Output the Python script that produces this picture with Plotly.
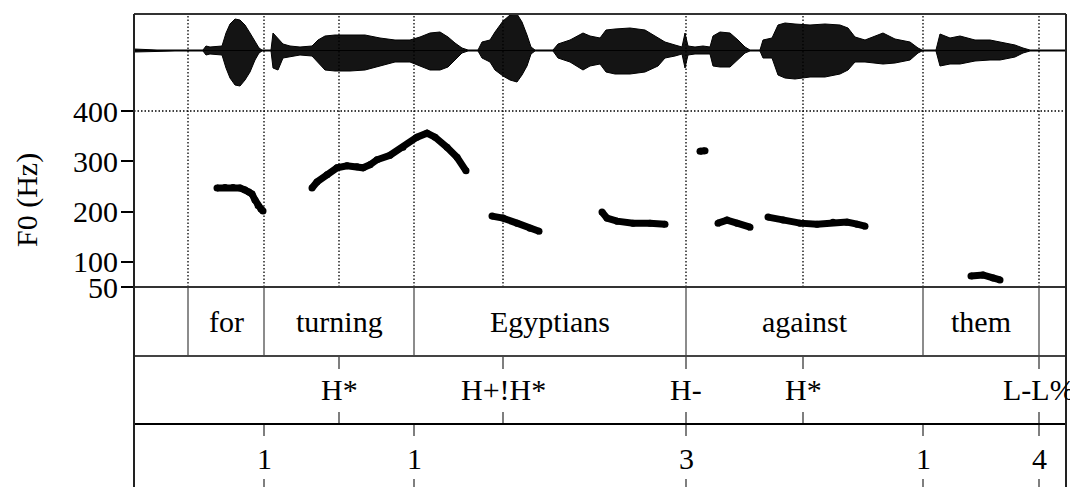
import plotly.graph_objects as go

# --- data -----------------------------------------------------------------
# time axis in seconds (whole utterance ~2.33 s)
DUR = 2.33

# waveform envelope (upper / lower amplitude, arbitrary units)
wave_t = [0.000, 0.0575, 0.1025, 0.1725, 0.18, 0.19, 0.22, 0.23, 0.24, 0.2525,
          0.265, 0.2775, 0.29, 0.3025, 0.3125, 0.32, 0.3425, 0.3475, 0.36, 0.3725,
          0.39, 0.415, 0.445, 0.46, 0.4775, 0.5025, 0.54, 0.5775, 0.615, 0.6525,
          0.69, 0.715, 0.74, 0.765, 0.785, 0.8025, 0.82, 0.835, 0.86, 0.87,
          0.89, 0.9025, 0.9225, 0.94, 0.9575, 0.97, 0.9825, 0.9925, 1.0025, 1.0475,
          1.06, 1.09, 1.1225, 1.14, 1.165, 1.18, 1.2025, 1.24, 1.2775, 1.31,
          1.3275, 1.3525, 1.37, 1.3775, 1.385, 1.4025, 1.4225, 1.44, 1.4475, 1.465,
          1.49, 1.51, 1.5275, 1.54, 1.565, 1.5725, 1.595, 1.61, 1.6275, 1.6525,
          1.69, 1.7275, 1.765, 1.785, 1.8025, 1.8275, 1.8725, 1.9025, 1.94, 1.96,
          1.97, 2.005, 2.015, 2.04, 2.065, 2.1025, 2.14, 2.165, 2.2025, 2.2225,
          2.24, 2.33]
wave_top = [1.5, 0.5, 0.5, 0.5, 4.5, 3.5, 4.5, 17.5, 26.5, 31.5,
            30.5, 25.5, 17.5, 8.5, 2.5, 0.5, 0.5, 17.5, 12.5, 6.5,
            4.5, 3.5, 4.5, 10.5, 14.5, 15.5, 15.5, 15.5, 12.5, 10.5,
            10.5, 13.5, 17.5, 18.5, 13.5, 7.5, 2.5, 0.5, 0.5, 8.5,
            10.5, 18.5, 29.5, 35.5, 36.5, 28.5, 15.5, 3.5, 0.5, 0.5,
            6.5, 10.5, 17.5, 14.5, 12.5, 20.5, 21.5, 22.5, 20.5, 12.5,
            8.5, 5.5, 3.5, 17.5, 4.5, 3.5, 4.5, 3.5, 14.5, 18.5,
            17.5, 10.5, 3.5, 0.5, 0.5, 10.5, 12.5, 25.5, 27.5, 26.5,
            25.5, 26.5, 25.5, 22.5, 13.5, 10.5, 17.5, 11.5, 8.5, 2.5,
            0.5, 0.5, 16.5, 12.5, 14.5, 10.5, 10.5, 8.5, 5.5, 2.5,
            0.5, 0.5]
wave_bot = [-1.5, -1.0, -0.5, -0.5, -4.5, -3.5, -4.5, -17.5, -27.5, -34.5,
            -35.5, -29.5, -21.5, -9.5, -2.5, -0.5, -0.5, -17.5, -19.5, -7.5,
            -6.5, -4.5, -5.5, -11.5, -19.5, -20.5, -20.5, -19.5, -15.5, -11.5,
            -11.5, -15.5, -19.5, -19.5, -16.5, -9.5, -2.5, -0.5, -0.5, -7.5,
            -11.5, -19.5, -25.5, -29.5, -31.5, -24.5, -15.5, -3.5, -0.5, -0.5,
            -7.5, -11.5, -19.5, -15.5, -13.5, -21.5, -23.5, -23.5, -21.5, -15.5,
            -7.5, -5.5, -3.5, -17.5, -4.5, -3.5, -3.5, -3.5, -15.5, -16.5,
            -16.5, -9.5, -2.5, -0.5, -0.5, -7.5, -7.5, -24.5, -27.5, -28.5,
            -26.5, -26.5, -23.5, -19.5, -11.5, -11.5, -13.5, -12.5, -9.5, -2.5,
            -0.5, -0.5, -15.5, -13.5, -13.5, -10.5, -9.5, -9.5, -6.5, -2.5,
            -0.5, -0.5]

# F0 contour segments (Hz)
f0_segments = [
    ([0.2075, 0.2275, 0.2475, 0.265, 0.2775, 0.2875, 0.295, 0.3025, 0.31, 0.3175, 0.3225],
     [247, 248, 248, 247, 243, 239, 235, 223, 212, 205, 201]),
    ([0.445, 0.4575, 0.4825, 0.5075, 0.5325, 0.5575, 0.5725, 0.59, 0.6075, 0.64,
      0.6725, 0.7075, 0.7325, 0.7525, 0.7825, 0.8075, 0.83],
     [247, 259, 273, 287, 291, 289, 287, 293, 303, 312,
      328, 348, 356, 348, 328, 308, 281]),
    ([0.895, 0.9225, 0.9575, 0.99, 1.0125], [191, 187, 177, 167, 161]),
    ([1.17, 1.1825, 1.2075, 1.2475, 1.29, 1.3275], [199, 187, 181, 177, 177, 175]),
    ([1.415, 1.4275], [320, 321]),
    ([1.46, 1.4825, 1.5075, 1.54], [177, 183, 177, 169]),
    ([1.585, 1.6225, 1.665, 1.7075, 1.7475, 1.7825, 1.8075, 1.8275],
     [189, 183, 177, 175, 179, 179, 175, 171]),
    ([2.0925, 2.1225, 2.1475, 2.165], [72, 74, 68, 64]),
]

# tiers
word_bounds = [0.135, 0.325, 0.70, 1.38, 1.9725, 2.2625]
word_labels = ["for", "turning", "Egyptians", "against", "them"]
tone_times = [0.5125, 0.9225, 1.38, 1.6725, 2.2625]
tone_labels = ["H*", "H+!H*", "H-", "H*", "L-L%"]
break_times = [0.325, 0.70, 1.38, 1.9725, 2.2625]
break_labels = ["1", "1", "3", "1", "4"]

f0_ticks = [50, 100, 200, 300, 400]

# --- layout constants (pixels of the 1070 x 487 picture) ------------------
W, H = 1070, 487
L, R, T = 134, 1066, 14
PANEL_BOT = 287      # bottom of waveform/F0 panel
WORD_BOT = 356
TONE_BOT = 424
FONT = "Liberation Serif"
FS = 30


def py(p):
    # pixel row -> paper y
    return (H - p) / (H - T)


fig = go.Figure()

# waveform as filled envelope
fig.add_trace(go.Scatter(
    x=wave_t + wave_t[::-1], y=wave_top + wave_bot[::-1],
    fill="toself", fillcolor="#141414", mode="lines",
    line=dict(color="black", width=1), yaxis="y2",
    hoverinfo="skip", showlegend=False))
fig.add_trace(go.Scatter(
    x=[0, DUR], y=[0, 0], mode="lines", line=dict(color="black", width=1),
    yaxis="y2", hoverinfo="skip", showlegend=False))

# F0 speckles
fx, fy = [], []
for ts, hz in f0_segments:
    fx += ts + [None]
    fy += hz + [None]
fig.add_trace(go.Scatter(
    x=fx, y=fy, mode="lines+markers",
    line=dict(color="black", width=7),
    marker=dict(color="black", size=7),
    showlegend=False, connectgaps=False))

shapes = []
dot = "1.5px,2px"
grid_times = sorted(set(word_bounds + tone_times))
for t in grid_times:
    shapes.append(dict(type="line", xref="x", yref="paper", x0=t, x1=t,
                       y0=py(PANEL_BOT), y1=1,
                       line=dict(color="black", width=1.3, dash=dot)))
shapes.append(dict(type="line", xref="paper", yref="y", x0=0, x1=1, y0=400, y1=400,
                   line=dict(color="black", width=1.3, dash=dot)))

# word tier boundaries
for t in word_bounds:
    shapes.append(dict(type="line", xref="x", yref="paper", x0=t, x1=t,
                       y0=py(WORD_BOT), y1=py(PANEL_BOT),
                       line=dict(color="#666666", width=1.5)))
# tone tier ticks
for t in tone_times:
    for a, b in [(WORD_BOT, WORD_BOT + 13), (TONE_BOT - 12, TONE_BOT)]:
        shapes.append(dict(type="line", xref="x", yref="paper", x0=t, x1=t,
                           y0=py(b), y1=py(a),
                           line=dict(color="#555555", width=1.5)))
# break tier ticks
for t in break_times:
    for a, b in [(TONE_BOT, TONE_BOT + 12), (H - 8, H)]:
        shapes.append(dict(type="line", xref="x", yref="paper", x0=t, x1=t,
                           y0=py(b), y1=py(a),
                           line=dict(color="#555555", width=1.5)))

# frame and tier separators
shapes.append(dict(type="line", xref="paper", yref="paper", x0=0, x1=1, y0=1, y1=1,
                   line=dict(color="#333333", width=2)))
for p, c in [(PANEL_BOT, "#333333"), (WORD_BOT, "#444444"), (TONE_BOT, "black")]:
    shapes.append(dict(type="line", xref="paper", yref="paper", x0=0, x1=1,
                       y0=py(p), y1=py(p), line=dict(color=c, width=1.8)))
for xp in [0, 1]:
    shapes.append(dict(type="line", xref="paper", yref="paper", x0=xp, x1=xp,
                       y0=0, y1=1, line=dict(color="#222222", width=2)))

ann = []
tf = dict(family=FONT, size=FS, color="black")
for i, w in enumerate(word_labels):
    ann.append(dict(x=(word_bounds[i] + word_bounds[i + 1]) / 2, y=py(321),
                    xref="x", yref="paper", text=w, showarrow=False, font=tf,
                    xanchor="center", yanchor="middle"))
for t, s in zip(tone_times, tone_labels):
    ann.append(dict(x=t, y=py(389), xref="x", yref="paper", text=s, showarrow=False,
                    font=tf, xanchor="center", yanchor="middle"))
for t, s in zip(break_times, break_labels):
    ann.append(dict(x=t, y=py(458), xref="x", yref="paper", text=s, showarrow=False,
                    font=tf, xanchor="center", yanchor="middle"))
ann.append(dict(x=(27 - L) / (R - L), y=py(200), xref="paper", yref="paper",
                text="F0 (Hz)", textangle=-90, showarrow=False, font=tf,
                xanchor="center", yanchor="middle"))

hz_top = 50 + (PANEL_BOT - T) * 350 / (PANEL_BOT - 111)

fig.update_layout(
    width=W, height=H,
    margin=dict(l=L, r=W - R, t=T, b=0, pad=0, autoexpand=False),
    paper_bgcolor="white", plot_bgcolor="white",
    font=tf,
    xaxis=dict(range=[0, DUR], visible=False, showgrid=False, zeroline=False,
               automargin=False),
    yaxis=dict(domain=[py(PANEL_BOT), 1], range=[50, hz_top],
               tickvals=f0_ticks, ticks="outside", ticklen=12, tickwidth=1.5,
               tickcolor="black", showgrid=False, zeroline=False, showline=False,
               tickfont=tf, ticklabelstandoff=-3, automargin=False),
    yaxis2=dict(overlaying="y", range=[-(PANEL_BOT - 50.5), 50.5 - T],
                visible=False, showgrid=False, zeroline=False, automargin=False),
    shapes=shapes, annotations=ann,
)

# page body has a default 8px margin; drop it so the figure sits at (0, 0)
fig.write_html("out.html", config={"displayModeBar": False},
               post_script="document.body.style.margin='0';document.body.style.overflow='hidden';")
